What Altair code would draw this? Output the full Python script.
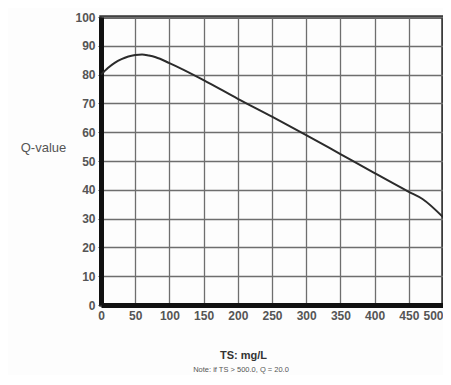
import altair as alt
import pandas as pd

ts = [0, 10, 20, 30, 40, 50, 60, 70, 80, 100, 150, 200, 250, 300, 350, 400, 450, 470, 500]
q = [80.0, 82.3, 84.1, 85.4, 86.3, 86.8, 87.0, 86.6, 86.0, 84.0, 78.1, 71.6, 65.4, 59.0, 52.4, 45.8, 39.3, 36.8, 30.5]
x_ticks = [0, 50, 100, 150, 200, 250, 300, 350, 400, 450, 500]
y_ticks = [0, 10, 20, 30, 40, 50, 60, 70, 80, 90, 100]
note = "Note: if TS > 500.0, Q = 20.0"

df = pd.DataFrame({"TS": ts, "Q": q})

line = alt.Chart(df).mark_line(color="#2b2b2b", strokeWidth=2, interpolate="monotone").encode(
    x=alt.X("TS:Q", scale=alt.Scale(domain=[0, 500], nice=False),
            axis=alt.Axis(values=x_ticks, title="TS: mg/L", grid=True,
                          gridColor="#6e6e6e", gridWidth=1.3,
                          domainColor="#111", domainWidth=5,
                          tickSize=0, labelPadding=5,
                          labelAlign={"condition": {"test": "datum.value == 500", "value": "right"},
                                      "value": "center"},
                          labelFont="Liberation Sans", labelFontSize=12, labelFontWeight="bold",
                          labelColor="#555", labelFlush=False,
                          titleFont="Liberation Sans", titleFontSize=11, titleFontWeight="bold",
                          titleColor="#333", titleX=142, titleY=50, titleAlign="center",
                          titleBaseline="middle")),
    y=alt.Y("Q:Q", scale=alt.Scale(domain=[0, 100], nice=False),
            axis=alt.Axis(values=y_ticks, title="Q-value", grid=True,
                          gridColor="#6e6e6e", gridWidth=1.3,
                          domainColor="#111", domainWidth=5,
                          tickSize=3, tickColor="#444", labelPadding=3,
                          labelFont="Liberation Sans", labelFontSize=12, labelFontWeight="bold",
                          labelColor="#555",
                          titleFont="Liberation Sans", titleFontSize=13, titleFontWeight="normal",
                          titleColor="#555", titleAngle=0, titleX=-58, titleY=130,
                          titleAlign="center", titleBaseline="middle")),
)

note_text = alt.Chart(alt.Data(values=[{}])).mark_text(
    text=note, font="Liberation Sans", fontSize=7.5, color="#555", align="center", baseline="middle"
).encode(x=alt.value(140), y=alt.value(353))

chart = alt.layer(line, note_text).properties(
    width=342, height=288,
    autosize=alt.AutoSizeParams(type="none"),
    padding={"left": 93, "top": 9, "right": 0, "bottom": 70},
    background="#fdfdfd",
).configure_view(stroke="#333", strokeWidth=3.5)

chart.save("out.html", embed_options={"renderer": "svg", "actions": False})
